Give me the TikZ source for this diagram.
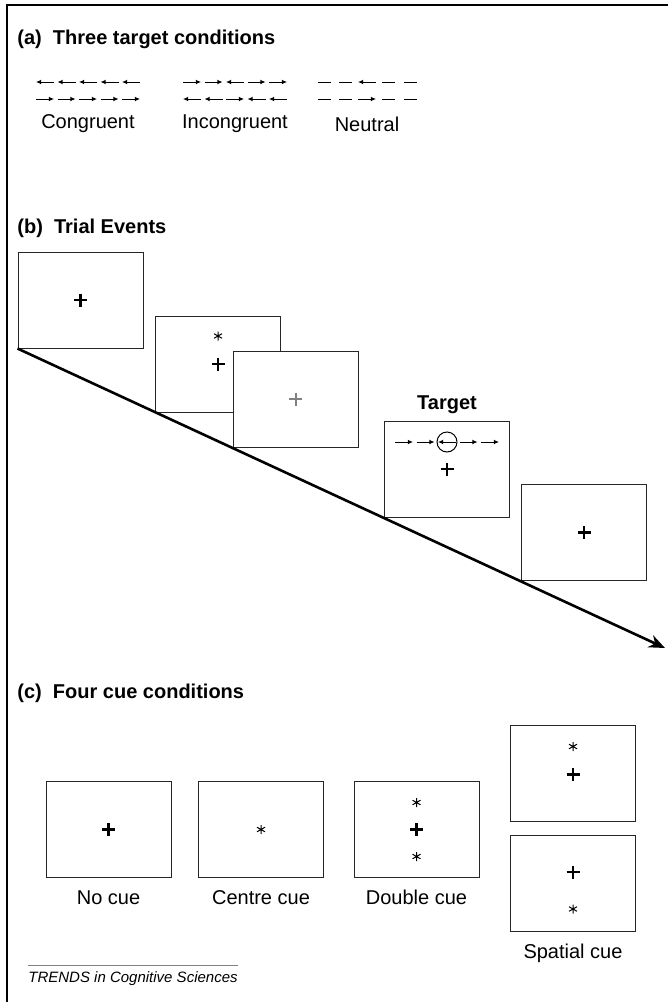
\documentclass[tikz,border=0pt]{standalone}
\usepackage{fontspec}
\setmainfont{Liberation Sans}
\usepackage{tikz}
\usetikzlibrary{arrows.meta, positioning}
\tikzset{screen/.style={rectangle,draw=black!85,line width=0.5pt,fill=white,minimum width=62.5pt,minimum height=48pt,inner sep=0pt},
         heading/.style={anchor=west,inner sep=0pt,font=\bfseries\fontsize{10}{12}\selectfont},
         tag/.style={inner sep=0pt,font=\bfseries\fontsize{10}{12}\selectfont},
         caption/.style={inner sep=0pt,font=\fontsize{10}{12}\selectfont},
         frame/.style={line width=1.3pt},
         timeline/.style={-{Stealth[length=8pt,width=6.5pt]},line width=1.3pt},
         flank/.style={line width=0.5pt},
         flankr/.style={flank,-{Latex[length=2.6pt,width=2.4pt]}},
         flankl/.style={flank,{Latex[length=2.6pt,width=2.4pt]}-},
         fixcross/.pic={\draw[line width=1.2pt] (-6.5,0) -- (6.5,0) (0,-6.5) -- (0,6.5);},
         greycross/.pic={\draw[line width=1pt,gray] (-6.5,0) -- (6.5,0) (0,-6.5) -- (0,6.5);},
         cuestar/.pic={\draw[line width=0.5pt] (0,-4.5) -- (0,4.5) (-4,-2.3) -- (4,2.3) (-4,2.3) -- (4,-2.3);}}
% one row of five flankers: x start, y, codes (0 dash, 1 right, 2 left)
\newcommand{\flankers}[3]{%
  \foreach \code [count=\k from 0] in {#3} {%
    \ifcase\code\relax
      \draw[flank] ({#1+\k*21.5+2.5},#2) -- ++(13,0);
    \or
      \draw[flankr] ({#1+\k*21.5},#2) -- ++(18,0);
    \or
      \draw[flankl] ({#1+\k*21.5},#2) -- ++(18,0);
    \fi}}

\begin{document}
\begin{tikzpicture}[x=0.5pt,y=-0.5pt]
  \useasboundingbox (0,0) rectangle (668,1002);
  \draw[frame] (7,1002) -- (7,5) -- (668,5);

  % (a) targets
  \node (heada) [heading] at (17,39) {(a)\ \ Three target conditions};
  \flankers{36}{82}{2,2,2,2,2}
  \flankers{36}{99}{1,1,1,1,1}
  \flankers{183}{82}{1,1,2,1,1}
  \flankers{183}{99}{2,2,1,2,2}
  \flankers{315}{82}{0,0,2,0,0}
  \flankers{315}{99}{0,0,1,0,0}
  \node (congr) [caption] at (88,124) {Congruent};
  \node (incongr) [caption] at (235,124) {Incongruent};
  \node (neutr) [caption] at (367,124) {Neutral};

  % (b) trial events
  \node (headb) [heading] at (17,228) {(b)\ \ Trial Events};
  \node (fix) [screen] at (80.5,300) {};
  \node (cue) [screen] at (218,364) {};
  \node (delay) [screen] at (295.5,399) {};
  \node (target) [screen] at (447,469.5) {};
  \node (post) [screen] at (584,532.5) {};
  \coordinate (tend) at (665,648);
  \draw[timeline] (fix.south west) -- (tend);
  \pic at (fix) {fixcross};
  \pic at ([yshift=14pt]cue) {cuestar};
  \pic at (cue) {fixcross};
  \pic at (delay) {greycross};
  \node (tlabel) [tag, above=3.3pt of target] {Target};
  \flankers{395}{442}{1,1,2,1,1}
  \node (tcirc) [circle,draw,line width=0.5pt,minimum size=10pt,inner sep=0pt] at (447,442) {};
  \pic at (447,469) {fixcross};
  \pic at (post) {fixcross};

  % (c) cues
  \node (headc) [heading] at (17,693) {(c)\ \ Four cue conditions};
  \node (nocue) [screen] at (108.5,829.5) {};
  \node (centre) [screen] at (261,829.5) {};
  \node (double) [screen] at (416.5,829.5) {};
  \node (spatup) [screen] at (573,773.5) {};
  \node (spatdn) [screen] at (573,883) {};
  \pic at (nocue) {fixcross};
  \pic at (centre) {cuestar};
  \pic at (double) {fixcross};
  \pic at ([yshift=13.5pt]double) {cuestar};
  \pic at ([yshift=-13.5pt]double) {cuestar};
  \pic at ([yshift=-0.5pt]spatup) {fixcross};
  \pic at ([yshift=13.5pt]spatup) {cuestar};
  \pic at ([yshift=5.5pt]spatdn) {fixcross};
  \pic at ([yshift=-13pt]spatdn) {cuestar};
  \node (lnocue) [caption, below=6pt of nocue] {No cue};
  \node (lcentre) [caption, below=6pt of centre] {Centre cue};
  \node (ldouble) [caption, below=6pt of double] {Double cue};
  \node (lspat) [caption, below=6pt of spatdn] {Spatial cue};

  \node (trends) [anchor=north west,inner sep=0pt,font=\itshape\fontsize{7.5}{9}\selectfont] at (28,971) {TRENDS in Cognitive Sciences};
  \draw[gray,line width=0.5pt] ([yshift=3pt]trends.north west) -- ([yshift=3pt]trends.north east);
\end{tikzpicture}
\end{document}
